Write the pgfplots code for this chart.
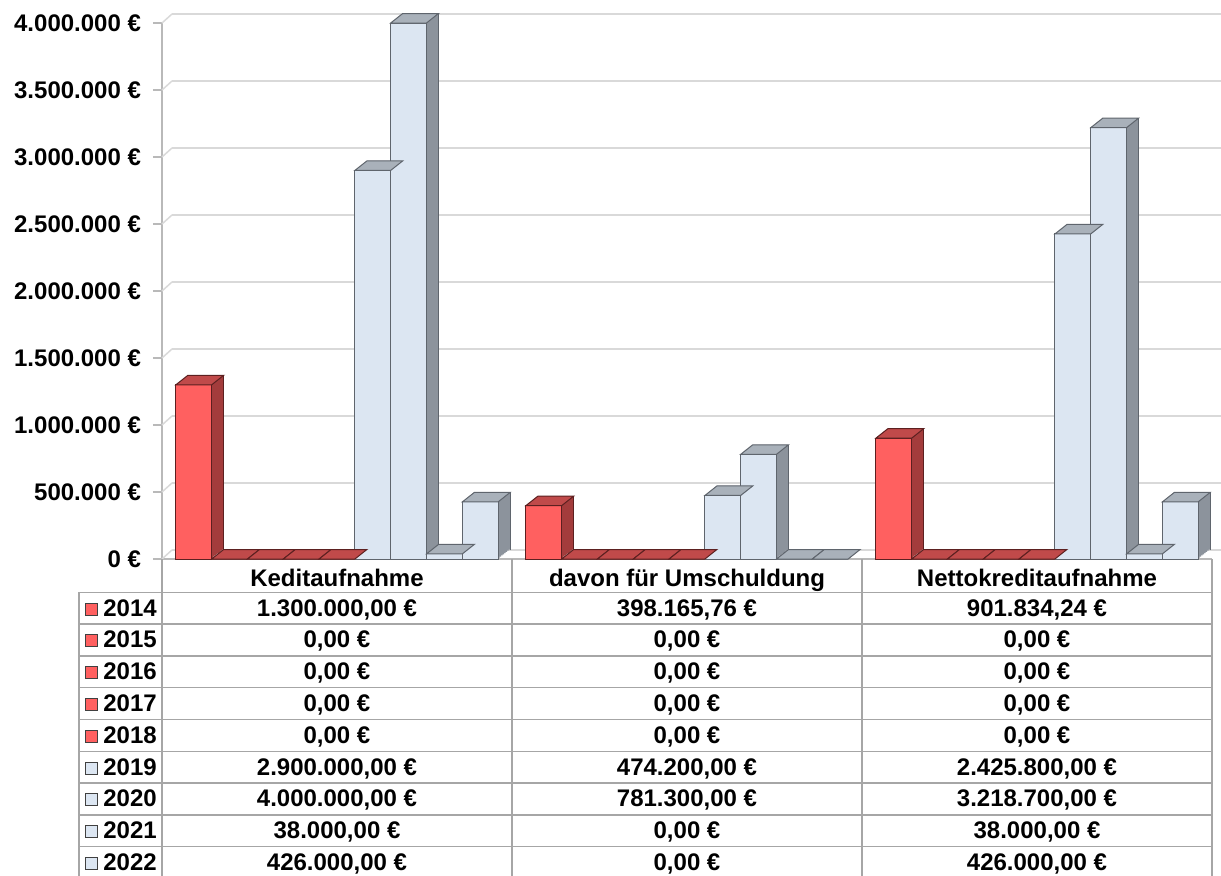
\documentclass[border=0pt]{standalone}
\usepackage{pgfplots}
\pgfplotsset{compat=1.18}
\usepackage{pgfplotstable}
\usepackage{fontspec}
\setmainfont{Liberation Sans}

\definecolor{redfront}{HTML}{FF6060}
\definecolor{redside}{HTML}{A33C3C}
\definecolor{redtop}{HTML}{C04A4A}
\definecolor{redline}{HTML}{5C2020}
\definecolor{bluefront}{HTML}{DCE6F2}
\definecolor{blueside}{HTML}{8C939C}
\definecolor{bluetop}{HTML}{A9B1BA}
\definecolor{blueline}{HTML}{5F656D}
\definecolor{gridgray}{HTML}{D9D9D9}
\definecolor{tablegray}{HTML}{A6A6A6}

\pgfplotstableread{
x y2014 y2015 y2016 y2017 y2018 y2019 y2020 y2021 y2022
0 1300000 0 0 0 0 2900000 4000000 38000 426000
1 398165.76 0 0 0 0 474200 781300 0 0
2 901834.24 0 0 0 0 2425800 3218700 38000 426000
}\datatable

\pgfdeclareplotmark{topface}{%
  \pgfpathmoveto{\pgfqpoint{-8.95pt}{0pt}}%
  \pgfpathlineto{\pgfqpoint{8.95pt}{0pt}}%
  \pgfpathlineto{\pgfqpoint{14.95pt}{4.75pt}}%
  \pgfpathlineto{\pgfqpoint{-2.95pt}{4.75pt}}%
  \pgfpathclose
  \pgfusepathqfillstroke}

% #1 column, #2 shift (axis units), #3 colour prefix
\newcommand{\depthcopy}[4]{%
  \addplot[ybar, bar width=0.1023, bar shift=0pt, fill=#3side, draw=none,
    xshift=#4*0.75pt, yshift=#4*0.59375pt, forget plot]
    table[x expr=\thisrow{x}+#2, y=#1]{\datatable};}
\newcommand{\barseries}[3]{%
  \depthcopy{#1}{#2}{#3}{1}\depthcopy{#1}{#2}{#3}{2}\depthcopy{#1}{#2}{#3}{3}\depthcopy{#1}{#2}{#3}{4}%
  \depthcopy{#1}{#2}{#3}{5}\depthcopy{#1}{#2}{#3}{6}\depthcopy{#1}{#2}{#3}{7}\depthcopy{#1}{#2}{#3}{8}%
  \addplot[ycomb, draw=#3line, line width=0.5pt, xshift=6pt, yshift=4.75pt, mark=none, forget plot]
    table[x expr=\thisrow{x}+#2+0.05115, y=#1]{\datatable};
  \addplot[only marks, mark=topface, mark options={fill=#3top, draw=#3line, line width=0.5pt}, forget plot]
    table[x expr=\thisrow{x}+#2, y=#1]{\datatable};
  \addplot[ybar, bar width=0.1023, bar shift=0pt, fill=#3front, draw=#3line, line width=0.5pt, forget plot]
    table[x expr=\thisrow{x}+#2, y=#1]{\datatable};
}

\begin{document}
\begin{tikzpicture}[every node/.style={font=\bfseries\fontsize{12}{14}\selectfont}]
\begin{axis}[
  at={(0,0)}, anchor=south west,
  scale only axis, width=525pt, height=268pt,
  xmin=-0.5, xmax=2.5, ymin=0, ymax=4000000,
  clip=false,
  axis x line*=bottom, axis y line*=left,
  axis line style={-, draw=gray!55, line width=0.75pt},
  xtick=\empty,
  ytick={0,500000,1000000,1500000,2000000,2500000,3000000,3500000,4000000},
  yticklabels={0 €,500.000 €,1.000.000 €,1.500.000 €,2.000.000 €,2.500.000 €,3.000.000 €,3.500.000 €,4.000.000 €},
  scaled y ticks=false,
  tick align=outside, major tick length=4.5pt,
  tick style={draw=gray!55, line width=0.75pt},
  yticklabel style={font=\bfseries\fontsize{12}{14}\selectfont, xshift=-2.5pt},
  ymajorgrids,
  major grid style={draw=gridgray, line width=1pt, xshift=5pt, yshift=4.5pt},
]
\barseries{y2014}{-0.4092}{red}
\barseries{y2015}{-0.3069}{red}
\barseries{y2016}{-0.2046}{red}
\barseries{y2017}{-0.1023}{red}
\barseries{y2018}{0}{red}
\barseries{y2019}{0.1023}{blue}
\barseries{y2020}{0.2046}{blue}
\barseries{y2021}{0.3069}{blue}
\barseries{y2022}{0.4092}{blue}
\end{axis}

% connectors from front axis to back wall
\foreach \k in {0,...,8} {\draw[gridgray, line width=0.75pt] (0,\k*33.5pt) -- ++(5pt,4.5pt);}

% data table
\foreach \xx in {0,175,350,525} {\draw[tablegray, line width=0.75pt] (\xx pt,0) -- (\xx pt,-160pt);}
\draw[tablegray, line width=0.75pt] (-41.5pt,-16.65pt) -- (-41.5pt,-160pt);
\foreach \k in {0,...,8} {\draw[tablegray, line width=0.75pt] (-41.5pt,-16.65pt-\k*15.9pt) -- (525pt,-16.65pt-\k*15.9pt);}

\node[anchor=base] at (87.5pt,-13.5pt) {Keditaufnahme};
\node[anchor=base] at (262.5pt,-13.5pt) {davon für Umschuldung};
\node[anchor=base] at (437.5pt,-13.5pt) {Nettokreditaufnahme};

\foreach \k/\yr/\a/\b/\c/\col in {
  0/2014/{1.300.000,00 €}/{398.165,76 €}/{901.834,24 €}/redfront,
  1/2015/{0,00 €}/{0,00 €}/{0,00 €}/redfront,
  2/2016/{0,00 €}/{0,00 €}/{0,00 €}/redfront,
  3/2017/{0,00 €}/{0,00 €}/{0,00 €}/redfront,
  4/2018/{0,00 €}/{0,00 €}/{0,00 €}/redfront,
  5/2019/{2.900.000,00 €}/{474.200,00 €}/{2.425.800,00 €}/bluefront,
  6/2020/{4.000.000,00 €}/{781.300,00 €}/{3.218.700,00 €}/bluefront,
  7/2021/{38.000,00 €}/{0,00 €}/{38.000,00 €}/bluefront,
  8/2022/{426.000,00 €}/{0,00 €}/{426.000,00 €}/bluefront} {
  \pgfmathsetmacro{\yb}{-28.5-\k*15.9}
  \pgfmathsetmacro{\yc}{-25-\k*15.9}
  \filldraw[fill=\col, draw=black!75, line width=0.5pt] (-38pt,\yc pt-3pt) rectangle (-32pt,\yc pt+3pt);
  \node[anchor=base west, inner sep=0pt] at (-29.5pt,\yb pt) {\yr};
  \node[anchor=base, inner sep=0pt] at (87.5pt,\yb pt) {\a};
  \node[anchor=base, inner sep=0pt] at (262.5pt,\yb pt) {\b};
  \node[anchor=base, inner sep=0pt] at (437.5pt,\yb pt) {\c};
}

\pgfresetboundingbox
\useasboundingbox (-81pt,-158pt) rectangle (529.5pt,279.5pt);
\end{tikzpicture}
\end{document}
